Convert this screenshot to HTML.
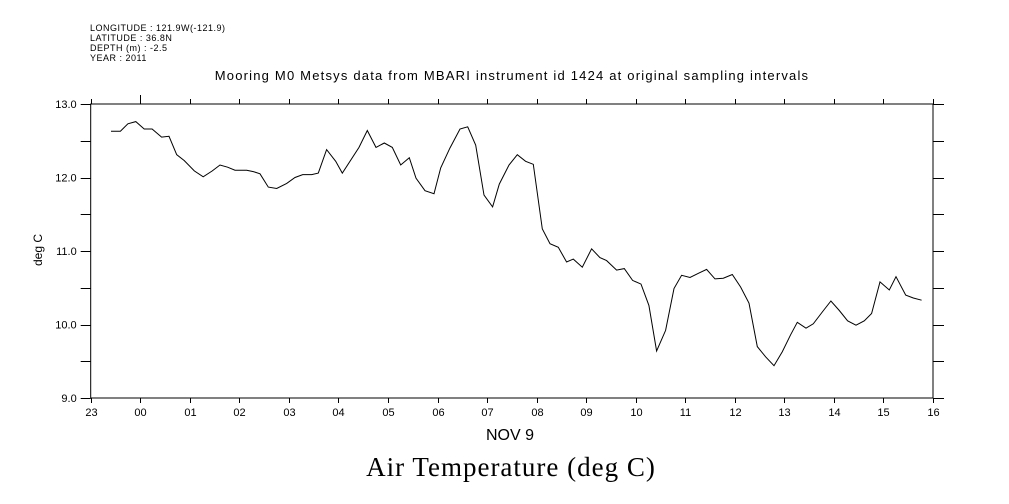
<!DOCTYPE html>
<html><head><meta charset="utf-8"><style>
html,body{margin:0;padding:0;background:#fff;}
svg{display:block;font-family:"Liberation Sans",sans-serif;}
</style></head><body>
<svg id="chart" width="1009" height="504" viewBox="0 0 1009 504">
<g font-size="9" fill="#000" letter-spacing="0.5">
<text x="90" y="31">LONGITUDE : 121.9W(-121.9)</text>
<text x="90" y="41">LATITUDE : 36.8N</text>
<text x="90" y="51">DEPTH (m) : -2.5</text>
<text x="90" y="61">YEAR : 2011</text>
</g>
<text x="512" y="80" text-anchor="middle" font-size="13" letter-spacing="1.2">Mooring M0 Metsys data from MBARI instrument id 1424 at original sampling intervals</text>
<g id="axes"></g>
<polyline id="line" fill="none" stroke="#000" stroke-width="1"></polyline>
<text x="42" y="250" transform="rotate(-90 42 250)" text-anchor="middle" font-size="12">deg C</text>
<text x="510" y="440" text-anchor="middle" font-size="16">NOV  9</text>
<text x="511" y="476" text-anchor="middle" font-size="27" letter-spacing="1" font-family="Liberation Serif, serif">Air Temperature (deg C)</text>
</svg>
<script>
const hours=[-0.59,-0.40,-0.25,-0.09,0.08,0.24,0.43,0.58,0.735,0.89,1.09,1.27,1.455,1.61,1.764,1.912,2.148,2.282,2.417,2.585,2.753,2.955,3.123,3.278,3.46,3.594,3.762,3.944,4.078,4.415,4.583,4.758,4.926,5.087,5.256,5.43,5.565,5.747,5.928,6.063,6.25,6.453,6.608,6.77,6.937,7.112,7.247,7.442,7.61,7.778,7.933,8.115,8.27,8.437,8.606,8.74,8.922,9.11,9.278,9.413,9.615,9.77,9.938,10.106,10.267,10.422,10.604,10.772,10.926,11.095,11.276,11.43,11.6,11.768,11.95,12.117,12.286,12.454,12.622,12.79,12.958,13.126,13.261,13.436,13.584,13.766,13.94,14.109,14.277,14.445,14.613,14.761,14.93,15.118,15.253,15.448,15.602,15.77];
const temps=[12.63,12.63,12.73,12.76,12.66,12.66,12.55,12.56,12.31,12.23,12.09,12.01,12.09,12.17,12.14,12.10,12.10,12.08,12.05,11.87,11.85,11.92,12.00,12.04,12.04,12.06,12.38,12.22,12.06,12.41,12.64,12.41,12.47,12.41,12.17,12.27,11.99,11.82,11.78,12.13,12.40,12.66,12.69,12.44,11.76,11.60,11.91,12.17,12.31,12.22,12.18,11.30,11.10,11.05,10.85,10.89,10.78,11.03,10.91,10.87,10.74,10.76,10.60,10.55,10.26,9.64,9.92,10.49,10.67,10.64,10.70,10.75,10.62,10.63,10.68,10.51,10.29,9.70,9.56,9.44,9.63,9.86,10.03,9.95,10.01,10.17,10.32,10.19,10.05,9.99,10.05,10.15,10.58,10.47,10.65,10.40,10.36,10.33];
const xTickLabels=["23","00","01","02","03","04","05","06","07","08","09","10","11","12","13","14","15","16"];
const yTickLabels=["9.0","10.0","11.0","12.0","13.0"];
const X0=90.7,X1=933,Y0=104,Y1=398,HMIN=-1,HMAX=16,TMIN=9,TMAX=13;
function xs(h){return X0+(h-HMIN)/(HMAX-HMIN)*(X1-X0);}
function ys(t){return Y1-(t-TMIN)/(TMAX-TMIN)*(Y1-Y0);}
const NS="http://www.w3.org/2000/svg";
const ax=document.getElementById('axes');
function ln(x1,y1,x2,y2,name){const l=document.createElementNS(NS,'line');l.setAttribute('x1',x1);l.setAttribute('y1',y1);l.setAttribute('x2',x2);l.setAttribute('y2',y2);l.setAttribute('stroke','#000');l.setAttribute('stroke-width','1');


ax.appendChild(l);}
function tx(x,y,s,anchor,name){const t=document.createElementNS(NS,'text');t.setAttribute('x',x);t.setAttribute('y',y);t.setAttribute('text-anchor',anchor);t.setAttribute('font-size','11');t.textContent=s;


ax.appendChild(t);}
const fr=document.createElementNS(NS,'rect');
fr.setAttribute('x',X0);fr.setAttribute('y',Y0);fr.setAttribute('width',X1-X0);fr.setAttribute('height',Y1-Y0);fr.setAttribute('fill','none');fr.setAttribute('stroke','#000');


ax.appendChild(fr);
xTickLabels.forEach((s,i)=>{const x=Math.round(xs(HMIN+i))+0.5;
ln(x,Y1,x,Y1+5,'x-tick');
ln(x,Y0,x,Y0-(s==="00"?9:5),'x-tick-top');
tx(x,Y1+18,s,'middle','x-tick-label');});
for(let v=TMIN;v<=TMAX+1e-9;v+=0.5){const y=Math.round(ys(v))+0.5;
ln(X0-10,y,X0,y,'y-tick');ln(X1,y,X1+11,y,'y-tick-right');}
yTickLabels.forEach(s=>{const y=ys(parseFloat(s));tx(X0-14,y+4,s,'end','y-tick-label');});
document.getElementById('line').setAttribute('points',hours.map((h,i)=>xs(h).toFixed(1)+','+ys(temps[i]).toFixed(1)).join(' '));
</script>
</body></html>
